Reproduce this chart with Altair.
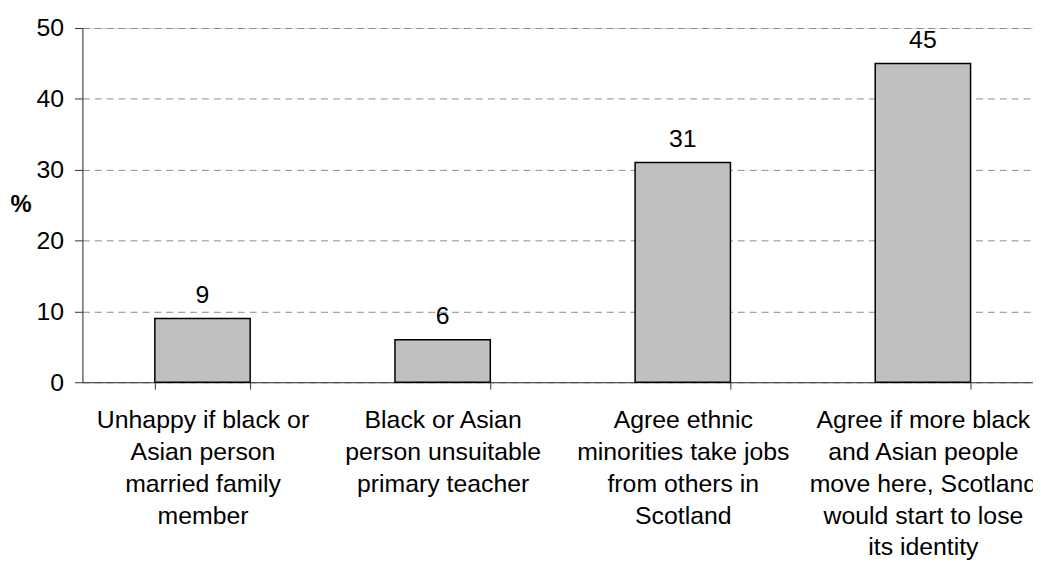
import altair as alt
import pandas as pd

categories = [
    "Unhappy if black or|Asian person|married family|member",
    "Black or Asian|person unsuitable|primary teacher",
    "Agree ethnic|minorities take jobs|from others in|Scotland",
    "Agree if more black|and Asian people|move here, Scotland|would start to lose|its identity",
]
values = [9, 6, 31, 45]
y_ticks = [0, 10, 20, 30, 40, 50]

df = pd.DataFrame({"category": categories, "value": values})

FONT = "Liberation Sans"
FS = 25

base = alt.Chart(df).encode(
    x=alt.X(
        "category:N",
        sort=categories,
        scale=alt.Scale(paddingInner=0.603, paddingOuter=0.2808, align=0.537),
        axis=alt.Axis(
            title=None,
            labelExpr="split(datum.label, '|')",
            labelAngle=0,
            labelFontSize=FS,
            labelLineHeight=32,
            labelFont=FONT,
            labelColor="black",
            labelPadding=19,
            labelBaseline="top",
            labelLimit=0,
            ticks=True,
            tickBand="extent",
            tickSize=7,
            tickColor="#333333",
            domainColor="#333333",
            grid=False,
        ),
    ),
    y=alt.Y(
        "value:Q",
        scale=alt.Scale(domain=[0, 50]),
        axis=alt.Axis(
            values=y_ticks,
            title="%",
            titleAngle=0,
            titleFont=FONT,
            titleFontSize=24,
            titleFontWeight="bold",
            titleColor="black",
            titleX=-73,
            titleY=178,
            titleAlign="left",
            titleBaseline="middle",
            labelFont=FONT,
            labelFontSize=FS,
            labelColor="black",
            labelPadding=11,
            tickSize=8,
            tickColor="#333333",
            domainColor="#333333",
            grid=True,
            gridDash=[7, 5],
            gridColor="#8c8c8c",
        ),
    ),
)

bars = base.mark_bar(color="#C0C0C0", stroke="black", strokeWidth=1.5)
labels = base.mark_text(dy=-16, baseline="alphabetic", fontSize=FS, font=FONT, color="black").encode(
    text="value:Q"
)

chart = (
    alt.layer(bars, labels)
    .properties(
        width=958,
        height=357,
        padding={"left": 75, "top": 18, "right": 0, "bottom": 179},
        autosize=alt.AutoSizeParams(type="none"),
    )
    .configure_view(stroke=None)
    .configure(background="white")
)

chart.save("out.html", embed_options={"renderer": "svg", "actions": False})
